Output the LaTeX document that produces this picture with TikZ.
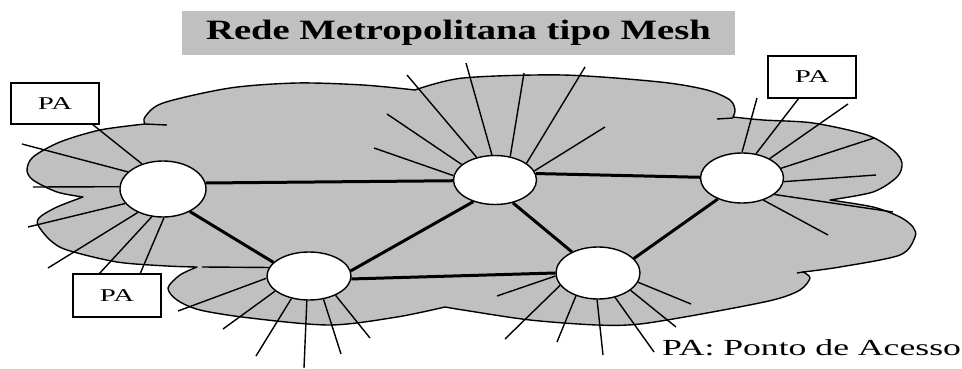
\documentclass[tikz,border=0pt]{standalone}
\usepackage{fontspec}
\setmainfont{Liberation Serif}
\usetikzlibrary{shapes.geometric}
\definecolor{cloudgray}{RGB}{192,192,192}
\begin{document}
\begin{tikzpicture}[x=1pt,y=-1pt,
  spoke/.style={line width=1.4pt},
  link/.style={line width=3pt},
  hub/.style={ellipse,draw,line width=1.4pt,fill=white,inner sep=0pt},
  pabox/.style={draw,line width=1.4pt,fill=white,inner sep=0pt,minimum width=88pt},
  patext/.style={font=\fontsize{18}{18}\selectfont},
  cloudline/.style={line width=1.4pt,line join=round}]
\useasboundingbox (0,0) rectangle (962,369);
% cloud
\filldraw[fill=cloudgray,cloudline]
  plot[smooth] coordinates {(145,124) (145,117) (163,103) (230,88) (297,83) (363,85) (415,90)}
  -- plot[smooth] coordinates {(415,90) (463,78) (563,75) (660,82) (707,90) (730,100) (735,110) (733,117)}
  -- plot[smooth] coordinates {(733,117) (763,120) (813,123) (867,135) (893,150) (902,163) (897,177) (873,192) (830,200)}
  -- plot[smooth] coordinates {(830,200) (873,207) (900,217) (913,227) (915,237) (900,255) (840,267) (803,272)}
  -- plot[smooth] coordinates {(803,272) (810,278) (800,290) (773,300) (707,313) (640,324) (597,325) (530,320) (463,310) (445,307)}
  -- plot[smooth] coordinates {(445,307) (397,317) (330,325) (250,318) (200,310) (177,300) (168,288) (180,275) (197,267)}
  -- plot[smooth] coordinates {(197,267) (167,266) (117,262) (67,250) (50,240) (38,225) (40,217) (57,207) (83,197)}
  -- plot[smooth] coordinates {(83,197) (57,192) (33,180) (27,170) (33,157) (60,142) (100,130) (145,124)}
  -- cycle;
\draw[cloudline] (145,124) -- (167,125);
\draw[cloudline] (733,118) -- (717,119);
\draw[cloudline] (803,272) -- (797,273);
% title
\node[fill=cloudgray,minimum width=553pt,minimum height=44pt,inner sep=0pt] (title) at (458.5,33)
  {\scalebox{1.38}[1]{\bfseries\fontsize{28}{28}\selectfont Rede Metropolitana tipo Mesh}};
% hubs
\node[hub,minimum width=86pt,minimum height=56pt] (A) at (163,189) {};
\node[hub,minimum width=83pt,minimum height=49pt] (B) at (495,180) {};
\node[hub,minimum width=83pt,minimum height=50pt] (C) at (742,178) {};
\node[hub,minimum width=84pt,minimum height=48pt] (D) at (309,276) {};
\node[hub,minimum width=84pt,minimum height=52pt] (E) at (598,273) {};
% PA boxes
\node[pabox,minimum height=41pt] (pa1) at (55,103.5) {\scalebox{1.6}[1]{\fontsize{18}{18}\selectfont PA}};
\node[pabox,minimum height=43pt] (pa2) at (117,295.5) {\scalebox{1.6}[1]{\fontsize{18}{18}\selectfont PA}};
\node[pabox,minimum height=42pt] (pa3) at (812,77) {\scalebox{1.6}[1]{\fontsize{18}{18}\selectfont PA}};
\coordinate (pa1a) at (92,124);
\coordinate (pa2a) at (99,274);
\coordinate (pa2b) at (140,274);
\coordinate (pa3a) at (799,98);
\draw[spoke] (pa1a) -- (A.130);
\draw[spoke] (pa2a) -- (A.248);
\draw[spoke] (pa2b) -- (A.272);
\draw[spoke] (pa3a) -- (C.60);
% links
\draw[link] (A.8) -- (B.181);
\draw[link] (A.320) -- (D.159);
\draw[link] (B.9) -- (C.179);
\draw[link] (B.225) -- (D.7);
\draw[link] (B.308) -- (E.141);
\draw[link] (D.356) -- (E.180);
\draw[link] (E.22) -- (C.221);
% spokes
\foreach \n/\a/\x/\y in {
  A/154/22/144, A/177/33/187, A/201/28/227, A/223/48/268,
  B/129/407/75, B/97/466/63, B/57/524/73, B/28/585/67, B/13/605/127, B/155/387/114, B/174/374/148,
  C/90/757/98, C/35/848/104, C/14/874/138, C/355/876/175, C/333/893/212, C/314/828/235,
  D/168/202/267, D/183/178/311, D/204/223/329, D/232/256/356, D/265/304/368, D/302/341/354, D/324/370/338,
  E/184/497/296, E/198/505/339, E/226/557/342, E/268/603/355, E/305/654/352, E/332/676/327, E/347/691/304} {
  \coordinate (\n-end-\a) at (\x,\y);
  \draw[spoke] (\n.\a) -- (\n-end-\a);
}
% legend
\node[anchor=base west,inner sep=0pt] (legend) at (662,355)
  {\scalebox{1.55}[1]{\fontsize{23}{23}\selectfont PA: Ponto de Acesso}};
\end{tikzpicture}
\end{document}
